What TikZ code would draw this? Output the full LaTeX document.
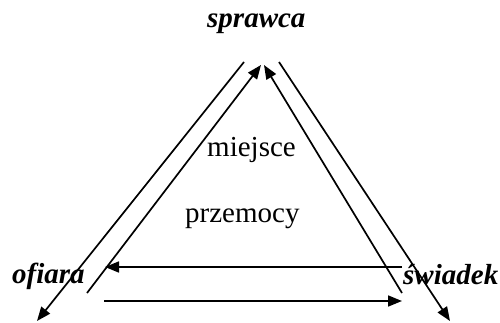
\documentclass[tikz,border=0pt]{standalone}
\usepackage{fontspec}
\setmainfont{Liberation Serif}
\usetikzlibrary{arrows.meta}
\begin{document}
\begin{tikzpicture}[x=1pt,y=-1pt,
  label/.style={inner sep=0pt,anchor=base west,font=\fontsize{29}{34}\selectfont},
  role/.style={label,font=\fontsize{29}{34}\selectfont\bfseries\itshape},
  link/.style={line width=1.7pt,-{Triangle[length=14pt,width=11pt]}}]
  \useasboundingbox (0,0) rectangle (500,323);

  % labels
  \node[role]  (sprawca) at (207,28)  {sprawca};
  \node[role]  (ofiara)  at (12,283)  {ofiara};
  \node[role]  (swiadek) at (403,284) {świadek};
  \node[label] (miejsce) at (207,157) {miejsce};
  \node[label] (przemoc) at (185,222) {przemocy};

  % end points of the connectors
  \coordinate (oLtop) at (244,62);
  \coordinate (oLbot) at (37,321);
  \coordinate (iLbot) at (87,293);
  \coordinate (iLtop) at (261,65);
  \coordinate (iRbot) at (402,293);
  \coordinate (iRtop) at (264,65);
  \coordinate (oRtop) at (279,62);
  \coordinate (oRbot) at (450,321);
  \coordinate (hUr)   at (402,267);
  \coordinate (hUl)   at (105,267);
  \coordinate (hLl)   at (104,301);
  \coordinate (hLr)   at (402,301);

  % triangle of relations
  \draw[link] (oLtop) -- (oLbot);
  \draw[link] (iLbot) -- (iLtop);
  \draw[link] (iRbot) -- (iRtop);
  \draw[link] (oRtop) -- (oRbot);
  \draw[link] (hUr) -- (hUl);
  \draw[link] (hLl) -- (hLr);
\end{tikzpicture}
\end{document}
